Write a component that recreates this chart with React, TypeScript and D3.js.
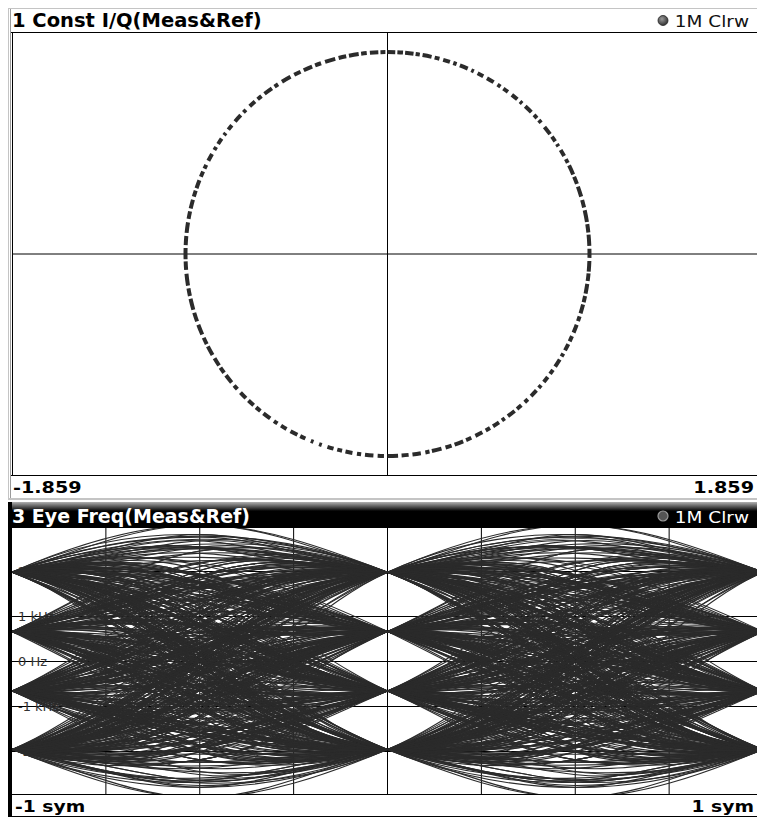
import * as d3 from "d3";

// ---- constellation (I/Q) ----
const iqRange = 1.859;
const iqRadius = 1.0;
// measured points around the unit circle, as [start angle, span] in degrees (0 = top, clockwise)
const constDashes: [number, number][] = [
  [0, 2.2], [2.8, 1.6], [5, 2.4], [8, 1.2], [10, 2.6], [13.5, 1.4], [16, 2], [19, 1], [21, 2.4], [24.5, 0.8],
  [26.5, 1.8], [29.5, 2.2], [33, 1], [35, 1.6], [38, 2], [41, 0.8], [43, 2.4], [46.5, 1.2], [48.5, 1], [51, 2.6],
  [54.5, 1.6], [57, 0.8], [59, 2], [62, 1.2], [64, 2.8], [67.5, 2.2], [70.5, 3], [74.5, 2.2], [77.5, 3.4], [81.5, 2.4],
  [84.5, 3.2], [88.5, 2.6], [92, 3], [95.5, 2.2], [98.5, 2.8], [102, 1.8], [104.5, 2.6], [108, 1.4], [110.5, 2.4], [114, 1.6],
  [116.5, 2], [119.5, 1], [121.5, 2.4], [125, 1.4], [127.5, 1.8], [130.5, 1], [132.5, 2.2], [136, 1.2], [138.5, 1.6], [141, 2.4],
  [144.5, 1], [146.5, 2], [149.5, 1.4], [152, 2.2], [155.5, 1.6], [158, 2.6], [161.5, 1.8], [164.5, 2.8], [168, 1.2], [170.5, 2.4],
  [174, 2], [177, 3], [181, 1.8], [184, 2.4], [187.5, 1.2], [190, 2], [193, 1.4], [195.5, 1.8], [199, 0.8], [201.5, 0.8],
  [204, 1.6], [206.5, 2.2], [210, 1.8], [213, 1.2], [215.5, 2.4], [219, 1.6], [221.5, 2], [224.5, 2.2], [228, 1.4], [230.5, 2.6],
  [234, 1.8], [236.5, 2.4], [240, 2.8], [243.5, 2], [246.5, 3], [250.5, 2.6], [254, 3.2], [258, 2.2], [261, 3.4], [265.5, 2.4],
  [268.5, 3.2], [272.5, 2.6], [276, 3], [280, 2.2], [283, 2.6], [286.5, 1.8], [289, 2.4], [292.5, 1.6], [295, 1.2], [297.5, 2.2],
  [301, 1], [303, 1.8], [306, 0.8], [308, 1.6], [311, 2.4], [314.5, 1], [317, 2], [320, 1.4], [322.5, 2.6], [326, 1.2],
  [328.5, 2.8], [332.5, 2], [335.5, 2.6], [339, 1.8], [342, 3], [346, 2.2], [349, 2.8], [352.5, 1.6], [355, 2.4], [358, 1.4],
];

// ---- eye diagram (frequency, 4FSK) ----
const levelsKHz = [-1.96, -0.66, 0.66, 1.98];
const symbols = [
  3, 0, 2, 1, 3, 3, 0, 1, 2, 0, 3, 1, 1, 2, 3, 0, 0, 2, 3, 1, 0, 3, 2, 2, 1, 0, 1, 3, 0, 2, 3, 3, 1, 0, 2, 1, 0, 0, 3, 2,
  1, 3, 0, 1, 1, 2, 0, 3, 3, 2, 0, 1, 3, 1, 2, 0, 2, 3, 0, 3, 1, 0, 2, 2, 3, 1, 0, 0, 1, 3, 2, 1, 2, 0, 3, 0, 1, 2, 3, 2,
  0, 2, 1, 1, 3, 0, 3, 3, 1, 2, 0, 1, 0, 3, 2, 3, 1, 1, 0, 2, 3, 0, 2, 0, 1, 3, 3, 2, 1, 0, 3, 1, 2, 2, 0, 0, 3, 1, 3, 2,
  1, 0, 2, 3, 1, 1, 2, 0, 0, 3, 3, 0, 1, 2, 1, 3, 0, 2, 2, 3, 0, 1, 0, 2, 1, 3, 3, 1, 0, 0, 2, 3, 2, 1, 1, 0, 3, 2, 0, 3,
  1, 2, 1, 0, 1, 3, 0, 0, 2, 2, 3, 3, 0, 2, 1, 0, 3, 1, 0, 2, 3, 1, 2, 1, 2, 3, 0, 1, 3, 2, 0, 0, 1, 1, 3, 0, 2, 3, 2, 0,
  3, 3, 2, 1, 0, 1, 2, 0, 3, 1, 3, 0, 2, 1, 1, 2, 3, 0, 0, 3, 2, 1, 3, 1, 0, 2, 0, 3, 2, 2, 1, 3, 0, 1,
];
// measured frequency half way between symbol k and k+1 (first 120 symbols), kHz
const midKHz = [
  -0.13, -1.09, 0.0, 0.3, 3.03, -0.26, -2.19, 0.79, -1.09, 0.0, 1.36, -1.36, -0.26, 2.19, 0.26, -3.03, -0.83, 2.19, 1.09, -2.45,
  0.0, 1.92, 0.57, 0.26, -1.66, -1.92, 1.62, 0.0, -1.62, 1.66, 2.5, 0.83, -2.19, -0.57, 0.79, -1.4, -2.76, 0.26, 2.19, -0.79,
  1.09, 0.26, -1.92, -0.57, 0.53, -1.09, -0.53, 2.76, 1.66, -1.09, -2.19, 1.36, 0.83, 0.0, -0.83, -1.36, 2.45, -0.53, -0.26, 1.62,
  -2.19, -0.83, 0.83, 1.66, 1.09, -1.66, -2.24, -1.66, 1.09, 1.92, -0.53, 0.26, -1.09, 0.26, 0.53, -2.19, 0.0, 1.66, 1.92, -1.36,
  -0.83, 0.53, -1.36, 1.36, -0.26, -0.79, 3.03, 0.3, 0.0, -0.57, -1.4, -1.66, 0.0, 1.66, 1.4, 0.83, -0.83, -1.66, -1.09, 2.45,
  -0.26, -0.83, -0.3, -2.19, 0.83, 2.5, 1.4, 0.0, -2.19, 0.26, 1.09, -0.53, 1.36, -0.57, -3.03, 0.53, 0.83, 0.3, 1.4,
];
const freqTicks = [2, 1, 0, -1, -2];
const freqTickLabels = ["2 kHz", "1 kHz", "0 Hz", "-1 kHz", "-2 kHz"];
const symTicks = [-0.75, -0.5, -0.25, 0, 0.25, 0.5, 0.75];

const FONT = "'DejaVu Sans', Verdana, sans-serif";
const INK = "#2b2b2b";

type Pt = [number, number];

export default function App() {
  // top panel scales
  const iqX = d3.scaleLinear().domain([-iqRange, iqRange]).range([12, 763]);
  const k = iqX(1) - iqX(0);
  const iqY = d3.scaleLinear().domain([-1, 1]).range([254 + k, 254 - k]);
  const arc = d3.arc<[number, number]>()
    .innerRadius(iqRadius * k - 2)
    .outerRadius(iqRadius * k + 2)
    .startAngle((d) => (d[0] * Math.PI) / 180)
    .endAngle((d) => ((d[0] + d[1]) * Math.PI) / 180);

  // eye panel scales
  const sx = d3.scaleLinear().domain([-1, 1]).range([12, 763]);
  const fy = d3.scaleLinear().domain([-3, 3]).range([796.3, 526.3]);

  const win = (i: number, half: number): Pt[] =>
    d3.range(-half, half + 1).map((j) => [j, levelsKHz[symbols[i + j]]] as Pt);
  const natWins: Pt[][] = [];
  const cardWins: Pt[][] = [];
  for (let i = 4; i < symbols.length - 4; i++) {
    natWins.push(win(i, 4));
    cardWins.push(win(i, 2));
  }
  // traces through symbol levels and the measured half-symbol values
  const measWins: Pt[][] = [];
  for (let i = 2; i + 1 < midKHz.length; i++) {
    measWins.push([
      [-1.5, midKHz[i - 2]],
      [-1, levelsKHz[symbols[i - 1]]],
      [-0.5, midKHz[i - 1]],
      [0, levelsKHz[symbols[i]]],
      [0.5, midKHz[i]],
      [1, levelsKHz[symbols[i + 1]]],
      [1.5, midKHz[i + 1]],
    ]);
  }

  const line = (curve: d3.CurveFactory) =>
    d3.line<Pt>().x((d) => sx(d[0])).y((d) => fy(d[1])).curve(curve);
  const natLine = line(d3.curveNatural);
  const cardLine = line(d3.curveCardinal.tension(-0.7));
  const measLine = line(d3.curveCatmullRom);

  return (
    <svg width={757} height={817} style={{ position: "absolute", left: 0, top: 0, background: "#fff" }}
      fontFamily={FONT}>
      <defs>
        <clipPath id="iqClip"><rect x={12} y={33} width={745} height={442} /></clipPath>
        <clipPath id="eyeClip"><rect x={12} y={528} width={745} height={266} /></clipPath>
        <linearGradient id="barGrad" x1="0" y1="0" x2="0" y2="1">
          <stop offset="0" stopColor="#b0b0b0" />
          <stop offset="0.35" stopColor="#000" />
          <stop offset="1" stopColor="#000" />
        </linearGradient>
        <radialGradient id="dotGrad" cx="0.4" cy="0.35" r="0.7">
          <stop offset="0" stopColor="#9a9a9a" />
          <stop offset="1" stopColor="#2a2a2a" />
        </radialGradient>
      </defs>

      {/* ---------- top panel ---------- */}
      <rect x={8.5} y={8.5} width={760} height={490} fill="#fff" stroke="#c4c4c4" />
      <line x1={10.5} x2={10.5} y1={9} y2={498} stroke="#9a9a9a" />
      <text x={12} y={27} fontSize={19.5} fontWeight="bold" fill="#000">1 Const I/Q(Meas&amp;Ref)</text>
      <circle cx={663} cy={20.5} r={5} fill="url(#dotGrad)" stroke="#222" strokeWidth={0.8} />
      <text transform="translate(749,27) scale(1.12,1)" fontSize={16.5} fill="#111" textAnchor="end">1M Clrw</text>
      <line x1={11} x2={757} y1={32.5} y2={32.5} stroke="#000" />
      <line x1={12.5} x2={12.5} y1={33} y2={475} stroke="#000" />

      <g clipPath="url(#iqClip)">
        <line x1={iqX(0)} x2={iqX(0)} y1={33} y2={475} stroke="#000" />
        <line x1={12} x2={757} y1={iqY(0)} y2={iqY(0)} stroke="#000" />
        <g transform={`translate(${iqX(0)},${iqY(0)})`}>
          {constDashes.map((d, i) => (
            <path key={i} d={arc(d) || ""} fill={INK} />
          ))}
        </g>
      </g>
      <line x1={11} x2={757} y1={475.5} y2={475.5} stroke="#000" />
      <text transform="translate(13,493) scale(1.28,1)" fontSize={15} fontWeight="bold" fill="#000">{`-${iqRange}`}</text>
      <text transform="translate(754,493) scale(1.28,1)" fontSize={15} fontWeight="bold" fill="#000" textAnchor="end">{`${iqRange}`}</text>
      <line x1={8} x2={757} y1={499.5} y2={499.5} stroke="#c4c4c4" />

      {/* ---------- bottom panel ---------- */}
      <rect x={8} y={502} width={749} height={26} fill="url(#barGrad)" />
      <text x={12} y={523} fontSize={19} fontWeight="bold" fill="#fff">3 Eye Freq(Meas&amp;Ref)</text>
      <circle cx={663} cy={516} r={5} fill="#555" stroke="#9a9a9a" strokeWidth={1.2} />
      <text transform="translate(749,523) scale(1.12,1)" fontSize={16.5} fill="#fff" textAnchor="end">1M Clrw</text>
      <rect x={8} y={502} width={4} height={315} fill="#000" />

      <g clipPath="url(#eyeClip)">
        {symTicks.map((t) => (
          <line key={t} x1={sx(t)} x2={sx(t)} y1={528} y2={794} stroke="#000" />
        ))}
        {freqTicks.map((t) => (
          <line key={t} x1={12} x2={757} y1={Math.round(fy(t)) + 0.5} y2={Math.round(fy(t)) + 0.5} stroke="#000" />
        ))}
        {freqTicks.map((t, i) => (
          <text key={t} x={18} y={fy(t) + 4.5} fontSize={13} fill="#333">{freqTickLabels[i]}</text>
        ))}
        {natWins.map((w, i) => (
          <path key={"n" + i} d={natLine(w) || ""} fill="none" stroke={INK} strokeWidth={1.1} />
        ))}
        {cardWins.map((w, i) => (
          <path key={"c" + i} d={cardLine(w) || ""} fill="none" stroke={INK} strokeWidth={1.1} />
        ))}
        {measWins.map((w, i) => (
          <path key={"m" + i} d={measLine(w) || ""} fill="none" stroke={INK} strokeWidth={1.1} />
        ))}
      </g>
      <line x1={12} x2={757} y1={794.5} y2={794.5} stroke="#000" />
      <text transform="translate(15,812) scale(1.25,1)" fontSize={15} fontWeight="bold" fill="#000">-1 sym</text>
      <text transform="translate(754,812) scale(1.25,1)" fontSize={15} fontWeight="bold" fill="#000" textAnchor="end">1 sym</text>
      <line x1={8} x2={757} y1={816.5} y2={816.5} stroke="#000" />
    </svg>
  );
}
